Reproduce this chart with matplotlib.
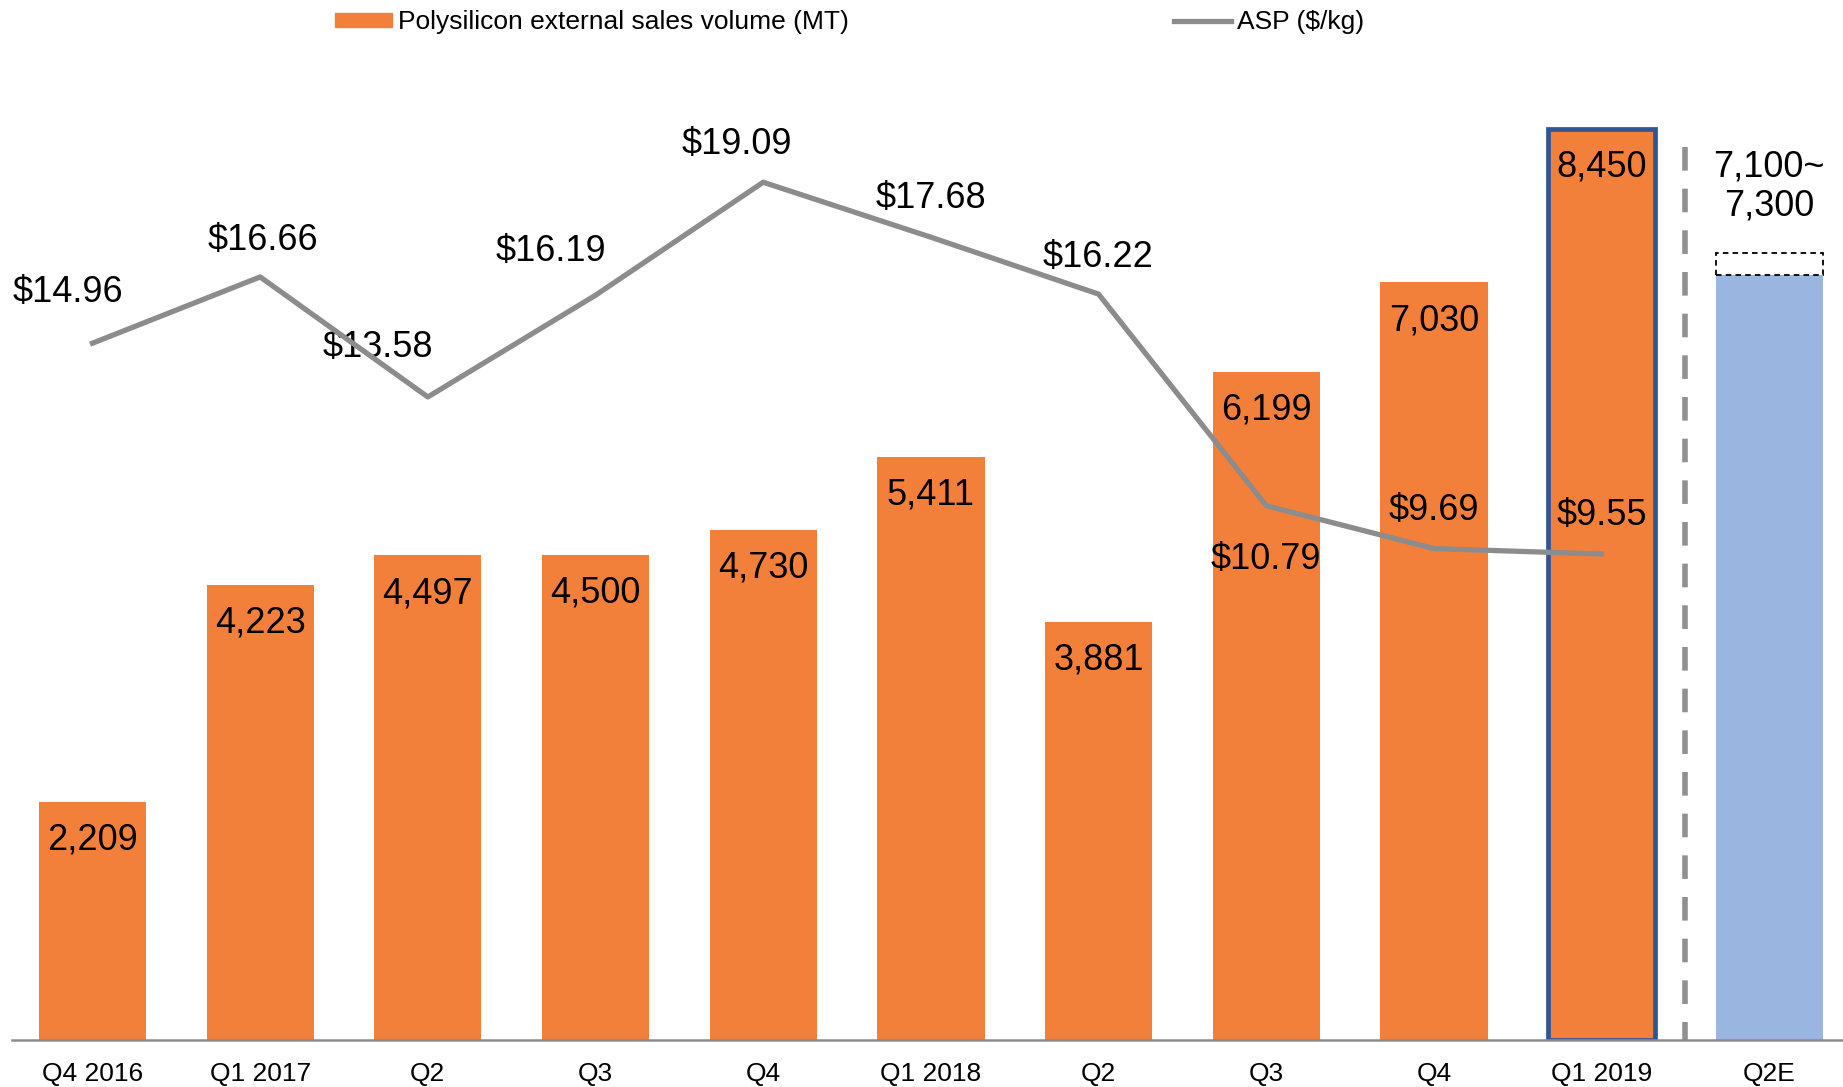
import matplotlib.pyplot as plt
from matplotlib.patches import Patch
from matplotlib.lines import Line2D

plt.rcParams['font.family'] = ['Liberation Sans', 'DejaVu Sans']
plt.rcParams['lines.scale_dashes'] = False

# data
quarters = ['Q4 2016', 'Q1 2017', 'Q2', 'Q3', 'Q4', 'Q1 2018', 'Q2', 'Q3', 'Q4', 'Q1 2019', 'Q2E']
volume = [2209, 4223, 4497, 4500, 4730, 5411, 3881, 6199, 7030, 8450]
guide_low = 7100
guide_high = 7300
asp = [14.96, 16.66, 13.58, 16.19, 19.09, 17.68, 16.22, 10.79, 9.69, 9.55]

# label offsets for ASP values (points)
asp_offsets = [(-18, 36.5), (2, 26.5), (-36, 35.5), (-32, 31.5), (-19, 27),
               (0, 27.5), (0, 26.5), (0, -39), (0, 27.5), (0, 27.5)]

orange = '#F3803A'
blue = '#99B5E0'
gray = '#8C8C8C'

fig = plt.figure(figsize=(18.43, 10.87), dpi=100)
ax = fig.add_axes([12 / 1843, 47 / 1087, 1831 / 1843, 970 / 1087])

x = list(range(len(quarters)))
bw = 0.64

bars = ax.bar(x[:len(volume)], volume, width=bw, color=orange, zorder=2)
bars[-1].set_edgecolor('#2F5597')
bars[-1].set_linewidth(3.4)

# Q2E guidance bar + dashed range box
ax.bar(x[-1], guide_low, width=bw, color=blue, zorder=2)
ax.bar(x[-1], guide_high - guide_low, bottom=guide_low, width=bw, fill=False,
       edgecolor='black', linestyle=(0, (4, 3)), linewidth=1.3, zorder=3)

# separator
ax.plot([9.5, 9.5], [8285, 0], color='#909090', linewidth=4,
        linestyle=(0, (17, 13)), zorder=1)

for i, v in enumerate(volume):
    ax.annotate(f'{v:,}', (i, v), xytext=(0, -27.5), textcoords='offset points',
                ha='center', va='center', fontsize=26, zorder=5)

ax.annotate(f'{guide_low:,}~\n{guide_high:,}', (x[-1], guide_high), xytext=(0, 21.5),
            textcoords='offset points', ha='center', va='bottom',
            fontsize=26, linespacing=1.15)

ax.set_xlim(-0.48, 10.44)
ax.set_ylim(0, 9000)
ax.set_xticks(x)
ax.set_xticklabels(quarters, fontsize=19)
ax.tick_params(axis='x', length=0, pad=15.5)
ax.set_yticks([])
for s in ['top', 'left', 'right']:
    ax.spines[s].set_visible(False)
ax.spines['bottom'].set_color(gray)
ax.spines['bottom'].set_linewidth(1.8)

ax2 = ax.twinx()
ax2.plot(x[:len(asp)], asp, color=gray, linewidth=3.8, zorder=4)
for i, (v, off) in enumerate(zip(asp, asp_offsets)):
    ax2.annotate(f'${v:.2f}', (i, v), xytext=off, textcoords='offset points',
                 ha='center', va='center', fontsize=26)
ax2.set_ylim(-2.92, 21.97)
ax2.set_yticks([])
for s in ax2.spines.values():
    s.set_visible(False)

handles = [Patch(color=orange), Line2D([], [], color=gray, linewidth=3.8)]
labels = ['Polysilicon external sales volume (MT)', 'ASP ($/kg)']
fig.legend(handles, labels, loc='center left', bbox_to_anchor=(335 / 1843, 1 - 22.5 / 1087),
           ncol=2, frameon=False, fontsize=19, handlelength=2.15, handleheight=0.45,
           handletextpad=0.25, columnspacing=12.3, borderpad=0, borderaxespad=0)

fig.savefig('out.png', dpi=100)
